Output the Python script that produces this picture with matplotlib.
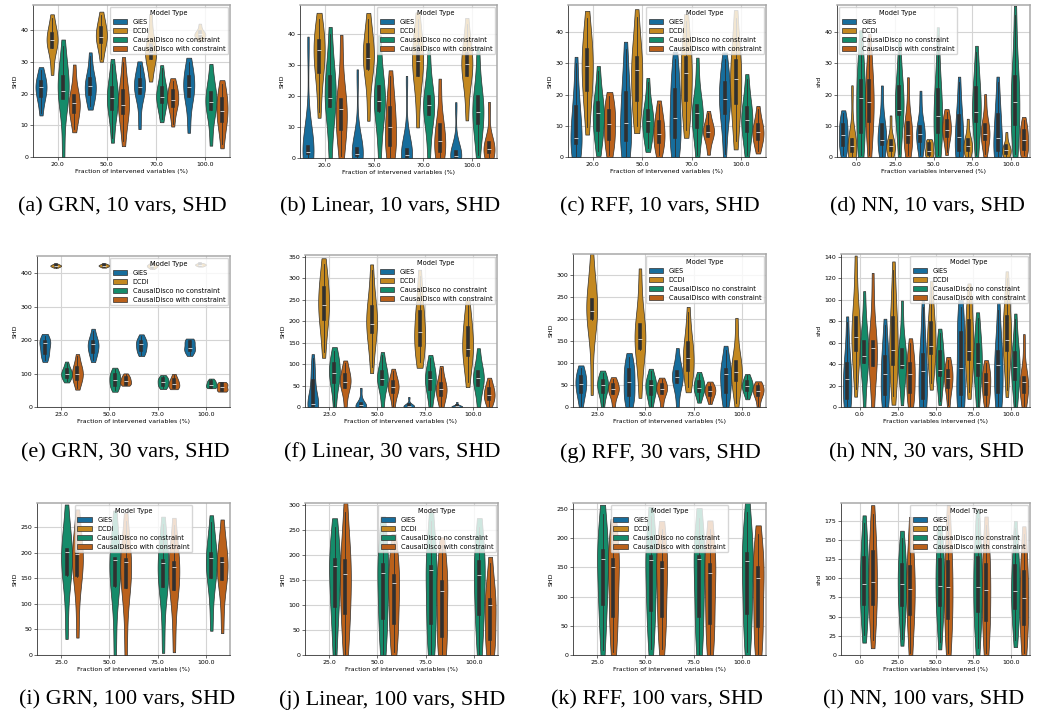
import matplotlib
matplotlib.use("Agg")
import matplotlib.pyplot as plt
import pandas as pd
import seaborn as sns

MODELS = ["GIES", "DCDI", "CausalDisco no constraint", "CausalDisco with constraint"]

FRAC_10 = ["20.0", "50.0", "70.0", "100.0"]
FRAC_30 = ["23.0", "50.0", "73.0", "100.0"]
FRAC_100 = ["25.0", "50.0", "75.0", "100.0"]
FRAC_NN = ["0.0", "25.0", "50.0", "75.0", "100.0"]

# SHD per run, one list per intervention fraction
GRN_10 = {
    "GIES": [[14, 19, 19.5, 22, 23.5, 24, 27.5], [16, 19.5, 20, 22.5, 24.5, 25, 32],
             [10, 20, 20.5, 22, 24, 24.5, 29], [9, 19, 19.5, 22, 25, 25.5, 30]],
    "DCDI": [[27, 34.5, 35, 37, 38.5, 39, 44], [31, 36, 36.5, 38, 40.5, 41, 45],
             [25, 31, 31.5, 33, 35, 35.5, 44], [36.8, 38, 38.2, 38.7, 39.2, 39.5, 41.8]],
    "CausalDisco no constraint": [[1, 18.5, 19, 21, 25, 25.5, 35], [6, 15, 15.5, 18.5, 21.5, 22, 29.5],
                                  [12, 17, 17.5, 19, 21.5, 22, 28], [5, 15, 15.5, 17.5, 20, 20.5, 28]],
    "CausalDisco with constraint": [[9, 14, 14.5, 17, 19, 19.5, 28], [5, 13.5, 14, 16.5, 20.5, 21, 30],
                                    [10.5, 16, 16.5, 18, 20.5, 21, 24], [4, 11, 11.5, 14.5, 18, 18.5, 23]],
}
LINEAR_10 = {
    "GIES": [[0, 0.5, 1.5, 1.8, 2, 3, 3.5, 10, 37], [0, 0.3, 0.9, 1, 1.2, 2, 3, 8, 27],
             [0, 0, 0.2, 0.5, 1, 1.5, 2.5, 7, 25], [0, 0, 0.2, 0.4, 0.8, 1, 2, 5, 17]],
    "DCDI": [[15, 27.5, 28, 35, 37.5, 38, 45], [14, 28.5, 29.5, 32.5, 36, 37, 45],
             [12, 26.5, 27, 31.5, 35.5, 36.5, 45], [14, 26.5, 27, 30.5, 33.5, 34, 43.5]],
    "CausalDisco no constraint": [[1, 16.5, 17, 19.5, 26, 26.5, 40], [1.5, 15, 16, 18.5, 22.5, 23.5, 37.5],
                                  [1, 14, 14.5, 17, 19.5, 20, 33.5], [1, 11, 11.5, 15, 19.5, 20, 34]],
    "CausalDisco with constraint": [[0.5, 9, 9.5, 16, 18.5, 19, 37.5], [0, 4, 4.5, 10, 16, 16.5, 26.5],
                                    [0, 2, 2.5, 5.5, 10.5, 11, 24], [0, 1.8, 2, 3, 4.5, 5, 17]],
}
RFF_10 = {
    "GIES": [[0, 4, 5, 6, 15.5, 16.5, 30], [0, 5, 6, 11, 20, 21, 34.5],
             [0, 6, 7, 12.5, 21, 22, 31.5], [1, 13.5, 14.5, 18.5, 23.5, 24, 31.5]],
    "DCDI": [[9.5, 21, 22, 29, 34, 34.5, 44.5], [10, 18, 18.5, 28, 31.5, 32, 45],
             [8.5, 18, 18.5, 27, 31.5, 32, 43.5], [5, 17, 17.5, 25, 30.5, 31, 44.5]],
    "CausalDisco no constraint": [[2, 8.5, 9, 14, 17, 17.5, 27.5], [3, 8, 8.5, 11.5, 14.5, 15, 24],
                                  [0.5, 9.5, 10, 14, 16, 16.5, 30], [0.5, 8, 8.5, 12, 15.5, 16, 25]],
    "CausalDisco with constraint": [[0.5, 5.5, 6, 10.5, 14.5, 15, 19.5], [0.5, 4.5, 5, 7.5, 11, 11.5, 17],
                                    [1.5, 6.5, 7, 8, 9.5, 10, 14], [2, 5.5, 6, 8, 10, 10.5, 15.5]],
}
NN_10 = {
    "GIES": [[0.5, 3.5, 4, 7, 10, 10.5, 14], [0, 4, 4.5, 5.5, 10, 10.5, 21.5], [0.5, 5, 5.5, 7.5, 9.5, 10, 20],
             [0, 2, 2.5, 6.5, 12.5, 13.5, 24], [0, 2, 2.5, 6, 13, 14, 24]],
    "DCDI": [[0, 1.8, 2.2, 3.5, 5.2, 6, 21.5], [0, 2, 2.3, 3.5, 4.8, 5.2, 12.5], [0, 1, 1.2, 2, 4, 4.6, 5.3],
             [0, 2, 2.3, 3.5, 5.2, 5.8, 11.5], [0, 1, 1.3, 2.3, 3.2, 3.6, 7.5]],
    "CausalDisco no constraint": [[0.5, 7.5, 8.5, 19, 24, 24.5, 38], [1, 13.5, 14, 15, 22, 23, 35],
                                  [0.5, 7.5, 8.5, 13, 21, 22, 39], [0.5, 11, 12, 14.5, 21.5, 22.5, 33.5],
                                  [1, 10, 11, 17.5, 25.5, 26, 45.5]],
    "CausalDisco with constraint": [[0.5, 11, 12, 17.5, 24, 24.5, 37], [0.5, 4.5, 5, 7, 10.5, 11.5, 24],
                                    [1.5, 6.5, 7, 8.5, 11, 12, 14.5], [1, 5.5, 6, 7.5, 10, 10.5, 19],
                                    [0.5, 2.3, 2.8, 5.5, 8, 8.5, 12]],
}
GRN_30 = {
    "GIES": [[140, 158, 163, 190, 193, 197, 213], [140, 163, 168, 188, 193, 197, 228],
             [156, 168, 172, 188, 193, 197, 213], [156, 168, 172, 176, 193, 197, 201]],
    "DCDI": [[416.5, 419.5, 420.5, 422, 423.5, 424.5, 427.5], [417, 420, 421, 422.5, 424, 425, 428],
             [413, 418, 419, 422, 424, 425, 431], [420, 422.5, 423.5, 425, 426.5, 427.5, 429.5]],
    "CausalDisco no constraint": [[77, 89, 91, 100, 109, 111, 132], [50, 65, 67, 82, 94, 96, 113],
                                  [56, 64, 66, 75, 82, 84, 93], [58, 60, 62, 67, 74, 76, 83]],
    "CausalDisco with constraint": [[58, 84, 86, 100, 116, 118, 152], [66, 69, 71, 78, 86, 88, 98],
                                    [56, 60, 62, 70, 79, 81, 96], [48, 50, 52, 60, 67, 69, 73]],
}
LINEAR_30 = {
    "GIES": [[0, 1, 3, 5, 8, 20, 60, 80, 115], [0, 0, 1, 2, 4, 5, 8, 20, 42],
             [0, 0, 0.5, 1, 2, 3, 4, 8, 22], [0, 0, 0.5, 1, 1.5, 2, 3, 5, 11]],
    "DCDI": [[128, 204, 208, 237, 274, 278, 333], [93, 173, 177, 194, 231, 235, 318],
             [105, 142, 146, 175, 220, 224, 306], [58, 119, 123, 136, 181, 185, 237]],
    "CausalDisco no constraint": [[2, 56, 60, 79, 99, 103, 131], [6, 52, 56, 66, 80, 84, 121],
                                  [2, 41, 45, 66, 78, 82, 114], [2, 49, 53, 68, 80, 84, 129]],
    "CausalDisco with constraint": [[2, 45, 49, 58, 72, 76, 102], [2, 33, 37, 47, 56, 60, 84],
                                    [1, 25, 29, 43, 52, 56, 90], [1, 17, 21, 29, 41, 45, 64]],
}
RFF_30 = {
    "GIES": [[2, 32, 36, 53, 66, 70, 89], [2, 25, 29, 57, 82, 86, 115],
             [2, 55, 59, 69, 78, 82, 127], [2, 32, 36, 76, 82, 86, 131]],
    "DCDI": [[45, 199, 205, 218, 241, 247, 332], [37, 131, 137, 156, 184, 190, 300],
             [45, 81, 87, 111, 142, 148, 217], [10, 58, 64, 79, 100, 106, 192]],
    "CausalDisco no constraint": [[2, 32, 36, 50, 58, 62, 78], [2, 28, 32, 50, 55, 59, 82],
                                  [14, 34, 38, 44, 56, 60, 76], [21, 36, 40, 48, 55, 59, 72]],
    "CausalDisco with constraint": [[2, 29, 33, 40, 48, 52, 64], [2, 29, 33, 42, 48, 52, 63],
                                    [10, 25, 29, 37, 42, 46, 55], [2, 25, 29, 36, 44, 48, 55]],
}
NN_30 = {
    "GIES": [[0.5, 7, 9, 26.5, 39.5, 41.5, 79], [0.5, 11.5, 13.5, 31, 46, 48, 77], [0.5, 7, 9, 33.5, 47.5, 49.5, 93],
             [0.5, 11.5, 13.5, 36, 68, 70, 93], [0.5, 13, 15, 39, 50.5, 52.5, 91]],
    "DCDI": [[17, 52, 54, 65.5, 82, 84, 134], [10, 39.5, 41.5, 53, 82, 84, 128], [22, 49, 51, 57, 77, 79, 112],
             [14, 44, 46, 52, 79, 81, 109], [16, 52, 54, 63, 83, 85, 120]],
    "CausalDisco no constraint": [[0.5, 41, 43, 47.5, 60, 62, 102], [7, 36.5, 38.5, 39.5, 52, 54, 94],
                                  [6, 29, 31, 35, 50.5, 52.5, 69], [0.5, 29, 31, 41.5, 57, 59, 83],
                                  [0.5, 25, 27, 37.5, 49, 51, 82]],
    "CausalDisco with constraint": [[0.5, 38, 40, 55, 60, 62, 118], [0.5, 13, 15, 31, 39.5, 41.5, 60],
                                    [2, 18, 20, 27, 33, 35, 44], [1, 11.5, 13.5, 23.5, 29, 31, 41],
                                    [0.5, 13, 15, 23.5, 26.5, 28, 64]],
}
GRN_100 = {
    "CausalDisco no constraint": [[46, 155, 161, 202, 204, 208, 280], [14, 134, 140, 185, 187, 190, 267],
                                  [19, 133, 139, 181, 183, 186, 256], [60, 150, 156, 190, 195, 199, 261]],
    "CausalDisco with constraint": [[48, 153, 159, 198, 201, 204, 271], [14, 131, 137, 182, 185, 188, 263],
                                    [20, 127, 133, 173, 178, 182, 254], [55, 146, 152, 183, 186, 189, 253]],
}
LINEAR_100 = {
    "CausalDisco no constraint": [[2, 95, 100, 178, 188, 193, 257], [2, 72, 77, 165, 179, 183, 260],
                                  [2, 62, 67, 170, 174, 178, 268], [2, 79, 84, 161, 184, 188, 257]],
    "CausalDisco with constraint": [[2, 82, 87, 162, 186, 190, 286], [6, 62, 67, 144, 156, 160, 227],
                                    [2, 35, 40, 128, 144, 148, 220], [2, 29, 34, 101, 109, 113, 184]],
}
RFF_100 = {
    "CausalDisco no constraint": [[8, 84, 89, 164, 176, 180, 241], [11, 75, 80, 162, 166, 170, 238],
                                  [2, 64, 69, 164, 166, 169, 235], [5, 70, 75, 160, 170, 174, 244]],
    "CausalDisco with constraint": [[5, 64, 69, 150, 160, 164, 218], [11, 64, 69, 148, 155, 159, 215],
                                    [2, 53, 58, 141, 152, 156, 215], [2, 47, 52, 131, 146, 150, 207]],
}
NN_100 = {
    "CausalDisco no constraint": [[26, 65, 69, 92, 124, 128, 172], [21, 63, 67, 93, 115, 119, 153],
                                  [17, 63, 67, 90, 122, 126, 159], [9, 55, 59, 89, 124, 128, 179],
                                  [20, 59, 63, 84, 114, 118, 165]],
    "CausalDisco with constraint": [[20, 64, 68, 95, 132, 136, 184], [2, 52, 56, 86, 112, 116, 169],
                                    [2, 46, 50, 88, 119, 123, 183], [2, 44, 48, 85, 115, 119, 169],
                                    [2, 39, 43, 74, 106, 110, 157]],
}

XLABEL = "Fraction of intervened variables (%)"
XLABEL_NN = "Fraction variables intervened (%)"

# caption, fractions, samples, ylabel, xlabel, y max, legend loc
PANELS = [
    ("(a) GRN, 10 vars, SHD", FRAC_10, GRN_10, "SHD", XLABEL, 48, "upper right"),
    ("(b) Linear, 10 vars, SHD", FRAC_10, LINEAR_10, "SHD", XLABEL, 49.5, "upper right"),
    ("(c) RFF, 10 vars, SHD", FRAC_10, RFF_10, "SHD", XLABEL, 48.7, "upper right"),
    ("(d) NN, 10 vars, SHD", FRAC_NN, NN_10, "shd", XLABEL_NN, 48.7, "upper left"),
    ("(e) GRN, 30 vars, SHD", FRAC_30, GRN_30, "SHD", XLABEL, 451, "upper right"),
    ("(f) Linear, 30 vars, SHD", FRAC_30, LINEAR_30, "SHD", XLABEL, 354, "upper right"),
    ("(g) RFF, 30 vars, SHD", FRAC_30, RFF_30, "SHD", XLABEL, 349, "upper right"),
    ("(h) NN, 30 vars, SHD", FRAC_NN, NN_30, "shd", XLABEL_NN, 142.8, "upper right"),
    ("(i) GRN, 100 vars, SHD", FRAC_100, GRN_100, "SHD", XLABEL, 297.5, "upper center"),
    ("(j) Linear, 100 vars, SHD", FRAC_100, LINEAR_100, "SHD", XLABEL, 304.7, "upper right"),
    ("(k) RFF, 100 vars, SHD", FRAC_100, RFF_100, "SHD", XLABEL, 260, "upper center"),
    ("(l) NN, 100 vars, SHD", FRAC_NN, NN_100, "shd", XLABEL_NN, 198, "upper right"),
]

W, H = 1037, 719
# axes boxes in pixels: left, top, right, bottom
BOXES = [
    (33, 5, 230, 157), (300, 5, 497, 158), (568, 5, 766, 157), (837, 5, 1030, 157),
    (37, 256, 230, 407), (305, 255, 497, 407), (573, 254, 766, 407), (841, 254, 1030, 407),
    (37, 503, 230, 655), (305, 503, 498, 655), (573, 503, 766, 655), (841, 503, 1030, 655),
]
# caption centres in pixels
CAPTIONS = [
    (122, 207), (390, 207), (660, 207), (927, 207),
    (125, 453), (392, 453), (660, 453), (926, 453),
    (127, 700), (392, 700), (657, 700), (924, 700),
]

FS = 4.5
LEG_FS = 4.8


def to_frame(fracs, samples):
    rows = []
    for model, per_frac in samples.items():
        for frac, vals in zip(fracs, per_frac):
            for v in vals:
                rows.append((frac, model, v))
    return pd.DataFrame(rows, columns=["frac", "model", "shd"])


def draw_panel(ax, fracs, samples, ylabel, xlabel, ymax, loc):
    df = to_frame(fracs, samples)
    sns.violinplot(data=df, x="frac", y="shd", hue="model", order=fracs,
                   hue_order=MODELS, palette="colorblind", density_norm="width",
                   cut=0.3, bw_adjust=1.0, width=0.9, linewidth=0.5, inner="box",
                   inner_kws=dict(box_width=2.6, whis_width=0.6), ax=ax)
    ax.set_ylim(0, ymax)
    ax.set_xlim(-0.5, len(fracs) - 0.5)
    ax.grid(True, color="#d4d4d4", linewidth=0.8)
    ax.set_axisbelow(True)
    ax.set_ylabel(ylabel, fontsize=FS, labelpad=2)
    ax.set_xlabel(xlabel, fontsize=FS, labelpad=1.5)
    ax.tick_params(labelsize=FS, length=2, width=0.4, pad=1.5)
    for side in ("left", "bottom"):
        ax.spines[side].set_color("#333333")
        ax.spines[side].set_linewidth(0.6)
    for side in ("top", "right"):
        ax.spines[side].set_color("#a8a8a8")
        ax.spines[side].set_linewidth(1.1)
    sns.move_legend(ax, loc, title="Model Type", fontsize=LEG_FS, title_fontsize=LEG_FS,
                    borderaxespad=0.3, labelspacing=0.45, handlelength=2.2,
                    handleheight=0.8, borderpad=0.4)


def main():
    fig = plt.figure(figsize=(W / 100, H / 100), dpi=100)
    for (caption, fracs, samples, ylabel, xlabel, ymax, loc), box, cap in zip(PANELS, BOXES, CAPTIONS):
        l, t, r, b = box
        ax = fig.add_axes([l / W, 1 - b / H, (r - l) / W, (b - t) / H])
        draw_panel(ax, fracs, samples, ylabel, xlabel, ymax, loc)
        fig.text(cap[0] / W, 1 - cap[1] / H, caption, ha="center", va="center",
                 fontsize=16, family="Liberation Serif")
    fig.savefig("out.png", dpi=100)


if __name__ == "__main__":
    main()
